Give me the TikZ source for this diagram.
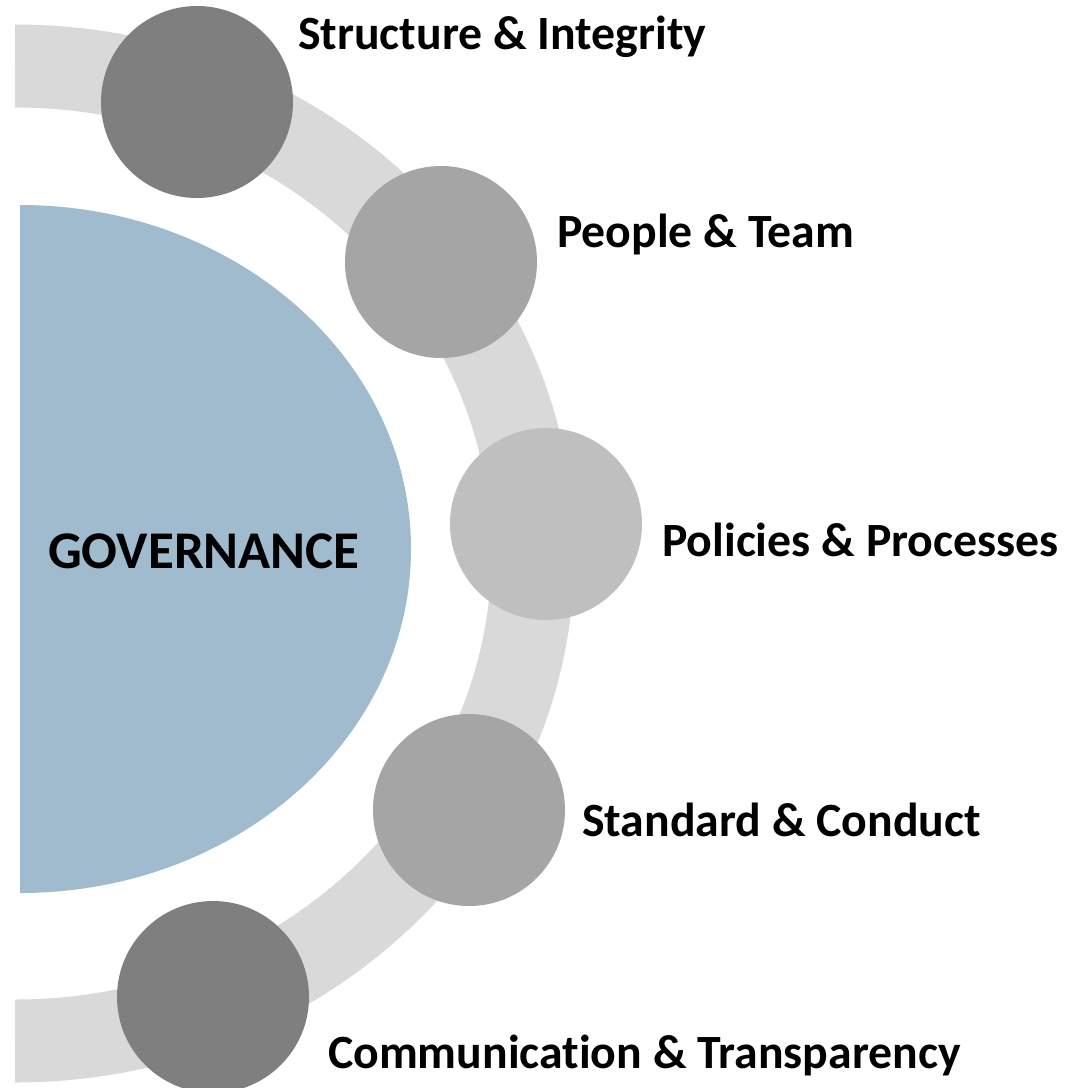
\documentclass[tikz,border=0pt]{standalone}
\usepackage{fontspec}
\setmainfont{Carlito}[Ligatures=NoCommon]
\definecolor{bandgray}{HTML}{D9D9D9}
\definecolor{govblue}{HTML}{A1BBCE}
\definecolor{darkdot}{HTML}{7F7F7F}
\definecolor{middot}{HTML}{A5A5A5}
\definecolor{lightdot}{HTML}{BFBFBF}
\tikzset{
    dot/.style={circle, inner sep=0pt, minimum size=192pt},
    label text/.style={anchor=west, inner sep=0pt, font=\bfseries\fontsize{47.75}{54}\selectfont}
}
\begin{document}
\begin{tikzpicture}[x=1pt,y=1pt]
    \useasboundingbox (0,0) rectangle (1066,-1088);
    % band and half disc
    \draw[bandgray, line width=83pt] (15,-66) arc[start angle=90, end angle=-90, x radius=518pt, y radius=487.5pt];
    \fill[govblue] (20,-205) arc[start angle=90, end angle=-90, x radius=391pt, y radius=344pt] -- cycle;
    \node[label text, font=\bfseries\fontsize{53}{60}\selectfont] (gov) at (48,-551) {GOVERNANCE};
    % dots on the band
    \foreach \n/\x/\y/\c in {1/197/102/darkdot, 2/441/262/middot, 3/546/524/lightdot, 4/469/810/middot, 5/213/997/darkdot} {
        \node[dot, fill=\c] (dot\n) at (\x,-\y) {};
    }
    \foreach \n/\x/\y/\t in {1/298/37/{Structure \& Integrity}, 2/557/234/{People \& Team}, 3/662/540/{Policies \& Processes}, 4/582/820/{Standard \& Conduct}, 5/328/1055/{Communication \& Transparency}} {
        \node[label text] (lab\n) at (\x,-\y) {\t};
    }
\end{tikzpicture}
\end{document}
